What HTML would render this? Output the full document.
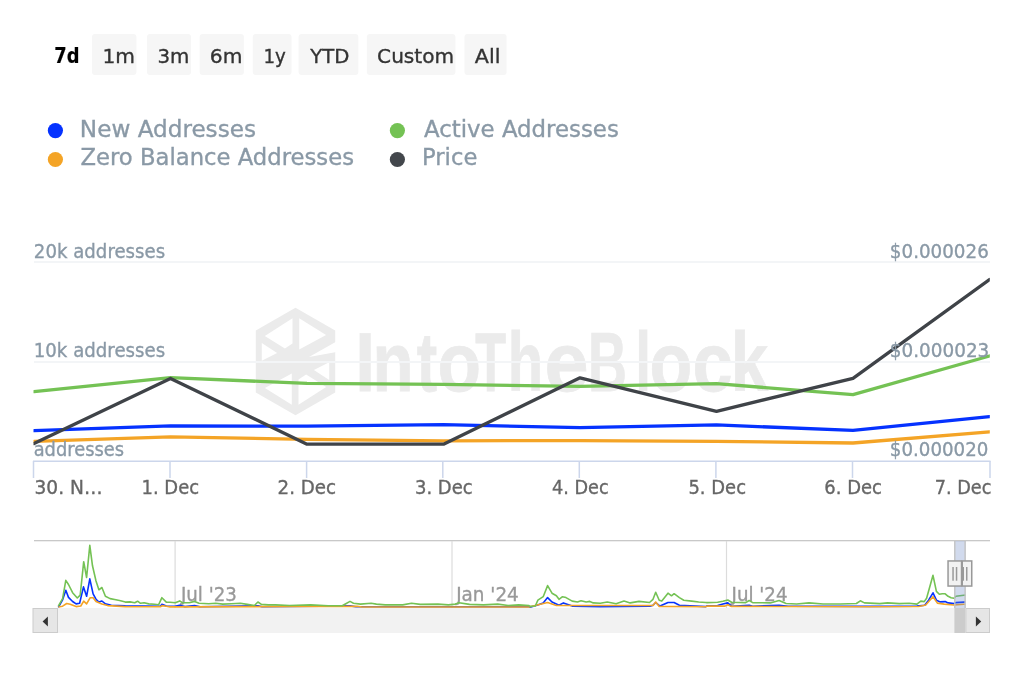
<!DOCTYPE html>
<html><head><meta charset="utf-8"><title>Addresses chart</title><style>html,body{margin:0;padding:0;background:#fff;overflow:hidden}svg{display:block;will-change:transform}</style></head><body>
<svg width="1024" height="683" viewBox="0 0 1024 683" font-family="'DejaVu Sans', sans-serif">
<rect width="1024" height="683" fill="#ffffff"/>
<rect x="92" y="34" width="44.4" height="41" rx="3" fill="#f6f6f6"/>
<rect x="147" y="34" width="44.0" height="41" rx="3" fill="#f6f6f6"/>
<rect x="199.7" y="34" width="44.2" height="41" rx="3" fill="#f6f6f6"/>
<rect x="252.8" y="34" width="38.7" height="41" rx="3" fill="#f6f6f6"/>
<rect x="298.6" y="34" width="59.7" height="41" rx="3" fill="#f6f6f6"/>
<rect x="366.9" y="34" width="88.5" height="41" rx="3" fill="#f6f6f6"/>
<rect x="464.5" y="34" width="42.1" height="41" rx="3" fill="#f6f6f6"/>
<circle cx="55.4" cy="130.6" r="7.6" fill="#0532ff"/>
<circle cx="55.4" cy="159.5" r="7.6" fill="#f4a426"/>
<circle cx="397.4" cy="130.6" r="7.6" fill="#74c254"/>
<circle cx="397.4" cy="159.5" r="7.6" fill="#43474c"/>
<path fill="#ebebeb" d="M295.5,307.7 L335.2,330.6 L335.2,392.4 L295.5,415.3 L255.8,392.4 L255.8,330.6 Z"/>
<path fill="#ffffff" d="M264.8,335.9 L292.5,318.3 L292.5,343.5 L284.9,348.5 Z M299.2,318.3 L326.1,335.1 L299.2,349.4 Z M261.8,342.9 L277.1,352.9 L261.8,360.8 Z M336.5,341.5 L309.0,357.0 L336.5,352.0 Z M326.2,387.1 L298.5,404.7 L298.5,379.5 L306.1,374.5 Z M291.8,404.7 L264.9,387.9 L291.8,373.6 Z M329.2,380.1 L313.9,370.1 L329.2,362.2 Z"/>
<g aria-label="IntoTheBlock"><text x="355.27" y="391.00" font-family="'Liberation Sans', sans-serif" font-size="84" font-weight="bold" fill="#ebebeb" stroke="#ebebeb" stroke-width="0.8" textLength="19.75" lengthAdjust="spacingAndGlyphs">I</text><text x="372.40" y="391.00" font-family="'Liberation Sans', sans-serif" font-size="84" font-weight="bold" fill="#ebebeb" stroke="#ebebeb" stroke-width="0.8" textLength="41.05" lengthAdjust="spacingAndGlyphs">n</text><text x="416.67" y="391.00" font-family="'Liberation Sans', sans-serif" font-size="84" font-weight="bold" fill="#ebebeb" stroke="#ebebeb" stroke-width="0.8" textLength="20.44" lengthAdjust="spacingAndGlyphs">t</text><text x="437.46" y="391.00" font-family="'Liberation Sans', sans-serif" font-size="84" font-weight="bold" fill="#ebebeb" stroke="#ebebeb" stroke-width="0.8" textLength="43.50" lengthAdjust="spacingAndGlyphs">o</text><text x="475.30" y="391.00" font-family="'Liberation Sans', sans-serif" font-size="84" font-weight="bold" fill="#ebebeb" stroke="#ebebeb" stroke-width="0.8" textLength="30.89" lengthAdjust="spacingAndGlyphs">T</text><text x="507.85" y="391.00" font-family="'Liberation Sans', sans-serif" font-size="84" font-weight="bold" fill="#ebebeb" stroke="#ebebeb" stroke-width="0.8" textLength="35.43" lengthAdjust="spacingAndGlyphs">h</text><text x="544.47" y="391.00" font-family="'Liberation Sans', sans-serif" font-size="84" font-weight="bold" fill="#ebebeb" stroke="#ebebeb" stroke-width="0.8" textLength="44.10" lengthAdjust="spacingAndGlyphs">e</text><text x="588.09" y="391.00" font-family="'Liberation Sans', sans-serif" font-size="84" font-weight="bold" fill="#ebebeb" stroke="#ebebeb" stroke-width="0.8" textLength="38.96" lengthAdjust="spacingAndGlyphs">B</text><text x="635.32" y="391.00" font-family="'Liberation Sans', sans-serif" font-size="84" font-weight="bold" fill="#ebebeb" stroke="#ebebeb" stroke-width="0.8" textLength="15.80" lengthAdjust="spacingAndGlyphs">l</text><text x="649.50" y="391.00" font-family="'Liberation Sans', sans-serif" font-size="84" font-weight="bold" fill="#ebebeb" stroke="#ebebeb" stroke-width="0.8" textLength="42.72" lengthAdjust="spacingAndGlyphs">o</text><text x="692.43" y="391.00" font-family="'Liberation Sans', sans-serif" font-size="84" font-weight="bold" fill="#ebebeb" stroke="#ebebeb" stroke-width="0.8" textLength="40.04" lengthAdjust="spacingAndGlyphs">c</text><text x="730.80" y="391.00" font-family="'Liberation Sans', sans-serif" font-size="84" font-weight="bold" fill="#ebebeb" stroke="#ebebeb" stroke-width="0.8" textLength="37.37" lengthAdjust="spacingAndGlyphs">k</text></g>
<rect x="34" y="261" width="956" height="2" fill="#f3f5f7"/>
<rect x="34" y="361" width="956" height="2" fill="#f3f5f7"/>
<rect x="33" y="460.5" width="957.5" height="1.5" fill="#ccd6eb"/>
<rect x="32.75" y="461" width="1.5" height="17" fill="#ccd6eb"/>
<rect x="169.25" y="461" width="1.5" height="17" fill="#ccd6eb"/>
<rect x="305.85" y="461" width="1.5" height="17" fill="#ccd6eb"/>
<rect x="442.05" y="461" width="1.5" height="17" fill="#ccd6eb"/>
<rect x="578.55" y="461" width="1.5" height="17" fill="#ccd6eb"/>
<rect x="715.15" y="461" width="1.5" height="17" fill="#ccd6eb"/>
<rect x="851.75" y="461" width="1.5" height="17" fill="#ccd6eb"/>
<rect x="989.25" y="461" width="1.5" height="17" fill="#ccd6eb"/>
<clipPath id="pc"><rect x="33.5" y="240" width="956.3" height="222"/></clipPath><g clip-path="url(#pc)">
<polyline points="34.0,441.4 170.5,436.8 307.0,439.3 443.5,440.8 580.0,440.6 716.5,441.3 853.0,443.0 989.5,431.8" fill="none" stroke="#f4a426" stroke-width="3.3" stroke-linejoin="round" stroke-linecap="round"/>
<polyline points="34.0,430.7 170.5,425.9 307.0,426.2 443.5,424.7 580.0,427.6 716.5,424.9 853.0,430.4 989.5,416.6" fill="none" stroke="#0532ff" stroke-width="3.3" stroke-linejoin="round" stroke-linecap="round"/>
<polyline points="34.0,391.6 170.5,377.6 307.0,383.4 443.5,384.4 580.0,386.4 716.5,383.7 853.0,394.7 989.5,356.0" fill="none" stroke="#74c254" stroke-width="3.3" stroke-linejoin="round" stroke-linecap="round"/>
<polyline points="34.0,443.5 170.5,378.5 307.0,444.2 443.5,444.2 580.0,377.8 716.5,411.3 853.0,378.3 989.5,279.6" fill="none" stroke="#3f4348" stroke-width="3.3" stroke-linejoin="round" stroke-linecap="round"/>
</g>
<text x="54.25" y="63.10" font-size="21" font-weight="bold" fill="#000000" stroke="#000000" stroke-width="0.2" textLength="25.23" lengthAdjust="spacingAndGlyphs">7d</text>
<text x="102.48" y="63.10" font-size="20" fill="#333333" stroke="#333333" stroke-width="0.35" textLength="32.52" lengthAdjust="spacingAndGlyphs">1m</text>
<text x="157.51" y="63.10" font-size="20" fill="#333333" stroke="#333333" stroke-width="0.35" textLength="31.96" lengthAdjust="spacingAndGlyphs">3m</text>
<text x="209.79" y="63.10" font-size="20" fill="#333333" stroke="#333333" stroke-width="0.35" textLength="32.61" lengthAdjust="spacingAndGlyphs">6m</text>
<text x="263.48" y="63.10" font-size="20" fill="#333333" stroke="#333333" stroke-width="0.35" textLength="22.37" lengthAdjust="spacingAndGlyphs">1y</text>
<text x="310.28" y="63.10" font-size="20" fill="#333333" stroke="#333333" stroke-width="0.35" textLength="39.21" lengthAdjust="spacingAndGlyphs">YTD</text>
<text x="377.10" y="63.10" font-size="20" fill="#333333" stroke="#333333" stroke-width="0.35" textLength="76.99" lengthAdjust="spacingAndGlyphs">Custom</text>
<text x="474.80" y="63.10" font-size="20" fill="#333333" stroke="#333333" stroke-width="0.35" textLength="25.61" lengthAdjust="spacingAndGlyphs">All</text>
<text x="79.89" y="136.50" font-size="23" fill="#8a99a6" stroke="#8a99a6" stroke-width="0.35" textLength="176.10" lengthAdjust="spacingAndGlyphs">New Addresses</text>
<text x="80.51" y="164.90" font-size="23" fill="#8a99a6" stroke="#8a99a6" stroke-width="0.35" textLength="273.46" lengthAdjust="spacingAndGlyphs">Zero Balance Addresses</text>
<text x="424.00" y="136.50" font-size="23" fill="#8a99a6" stroke="#8a99a6" stroke-width="0.35" textLength="194.78" lengthAdjust="spacingAndGlyphs">Active Addresses</text>
<text x="422.03" y="164.90" font-size="23" fill="#8a99a6" stroke="#8a99a6" stroke-width="0.35" textLength="55.31" lengthAdjust="spacingAndGlyphs">Price</text>
<text x="33.87" y="257.70" font-size="19.5" fill="#8a99a6" stroke="#8a99a6" stroke-width="0.35" textLength="131.28" lengthAdjust="spacingAndGlyphs">20k addresses</text>
<text x="33.74" y="357.20" font-size="19.5" fill="#8a99a6" stroke="#8a99a6" stroke-width="0.35" textLength="131.41" lengthAdjust="spacingAndGlyphs">10k addresses</text>
<text x="33.69" y="455.80" font-size="19.5" fill="#8a99a6" stroke="#8a99a6" stroke-width="0.35" textLength="90.36" lengthAdjust="spacingAndGlyphs">addresses</text>
<text x="889.86" y="257.50" font-size="19.5" fill="#8a99a6" stroke="#8a99a6" stroke-width="0.35" textLength="98.92" lengthAdjust="spacingAndGlyphs">$0.000026</text>
<text x="889.86" y="357.00" font-size="19.5" fill="#8a99a6" stroke="#8a99a6" stroke-width="0.35" textLength="99.47" lengthAdjust="spacingAndGlyphs">$0.000023</text>
<text x="889.87" y="455.50" font-size="19.5" fill="#8a99a6" stroke="#8a99a6" stroke-width="0.35" textLength="98.51" lengthAdjust="spacingAndGlyphs">$0.000020</text>
<text x="34.52" y="493.60" font-size="19" fill="#666666" stroke="#666666" stroke-width="0.35" textLength="68.14" lengthAdjust="spacingAndGlyphs">30. N…</text>
<text x="141.51" y="493.60" font-size="19" fill="#666666" stroke="#666666" stroke-width="0.35" textLength="57.61" lengthAdjust="spacingAndGlyphs">1. Dec</text>
<text x="277.54" y="493.60" font-size="19" fill="#666666" stroke="#666666" stroke-width="0.35" textLength="58.49" lengthAdjust="spacingAndGlyphs">2. Dec</text>
<text x="414.95" y="493.60" font-size="19" fill="#666666" stroke="#666666" stroke-width="0.35" textLength="57.77" lengthAdjust="spacingAndGlyphs">3. Dec</text>
<text x="552.00" y="493.60" font-size="19" fill="#666666" stroke="#666666" stroke-width="0.35" textLength="56.72" lengthAdjust="spacingAndGlyphs">4. Dec</text>
<text x="688.46" y="493.60" font-size="19" fill="#666666" stroke="#666666" stroke-width="0.35" textLength="57.57" lengthAdjust="spacingAndGlyphs">5. Dec</text>
<text x="824.35" y="493.60" font-size="19" fill="#666666" stroke="#666666" stroke-width="0.35" textLength="57.67" lengthAdjust="spacingAndGlyphs">6. Dec</text>
<text x="934.67" y="493.60" font-size="19" fill="#666666" stroke="#666666" stroke-width="0.35" textLength="56.75" lengthAdjust="spacingAndGlyphs">7. Dec</text>
<text x="180.96" y="601.00" font-size="19" fill="#999999" stroke="#999999" stroke-width="0.35" textLength="55.98" lengthAdjust="spacingAndGlyphs">Jul '23</text>
<text x="456.17" y="600.80" font-size="19" fill="#999999" stroke="#999999" stroke-width="0.35" textLength="62.62" lengthAdjust="spacingAndGlyphs">Jan '24</text>
<text x="731.56" y="600.80" font-size="19" fill="#999999" stroke="#999999" stroke-width="0.35" textLength="56.02" lengthAdjust="spacingAndGlyphs">Jul '24</text>
<rect x="34" y="540" width="956" height="1.3" fill="#c8c8c8"/>
<rect x="174.5" y="541" width="1.2" height="67" fill="#dcdcdc"/>
<rect x="451.4" y="541" width="1.2" height="67" fill="#dcdcdc"/>
<rect x="725.9" y="541" width="1.2" height="67" fill="#dcdcdc"/>
<polyline points="58.3,607.4 62.6,599.8 65.8,590.2 68.5,597.4 72.6,601.5 76.1,603.9 79.6,603.3 83.5,586.9 86.6,596.3 89.8,578.9 93.1,593.9 96.0,599.2 98.9,602.1 101.9,601.0 105.4,603.9 111.3,605.3 125.3,605.9 160.5,606.2 161.9,604.2 166.3,606.0 170.0,606.2 175.0,606.2 179.5,605.2 185.0,606.6 194.6,605.6 200.0,606.8 257.9,605.8 262.0,606.8 350.0,605.9 356.0,606.8 529.0,606.8 530.0,607.3 537.0,605.2 543.2,602.9 547.6,597.6 552.0,602.0 559.0,605.2 563.4,602.9 572.2,606.1 600.3,606.6 650.0,606.2 653.0,605.2 655.7,602.5 660.0,606.1 668.0,602.5 674.1,602.5 679.4,605.2 705.8,606.6 707.0,605.8 717.6,605.5 722.9,604.0 727.8,602.9 731.6,606.3 749.2,605.3 752.7,606.2 779.1,605.3 788.0,606.3 870.0,606.4 916.9,606.1 924.7,605.2 928.6,600.2 933.0,592.8 936.4,600.2 940.3,601.9 945.2,601.6 948.1,602.9 954.0,603.6 955.9,602.6 963.8,602.1 965.4,602.0" fill="none" stroke="#0532ff" stroke-width="1.6" stroke-linejoin="round"/>
<polyline points="58.3,607.0 62.6,606.2 66.7,603.5 70.2,604.2 76.1,606.6 80.8,606.0 83.7,601.2 86.6,603.9 90.2,597.7 93.1,597.7 96.0,601.5 101.9,603.9 107.7,605.6 125.3,606.6 160.5,606.8 161.9,605.6 166.3,606.3 170.0,606.9 357.0,606.2 362.0,607.0 529.0,607.0 530.0,606.7 547.6,602.5 556.4,605.5 653.0,605.5 655.7,602.0 659.2,606.4 705.8,606.7 707.0,606.1 725.0,606.1 727.8,604.7 731.0,606.4 870.0,606.8 918.8,606.5 925.7,605.0 933.0,596.7 937.4,603.1 944.2,604.1 954.0,605.0 963.8,604.3 965.4,604.2" fill="none" stroke="#f4a426" stroke-width="1.6" stroke-linejoin="round"/>
<polyline points="58.3,606.2 62.6,598.6 65.8,580.4 68.5,584.5 72.6,592.7 77.3,598.0 80.2,595.1 83.7,561.7 86.6,577.5 89.8,545.3 92.5,565.8 96.0,581.0 98.9,589.8 101.9,587.5 105.4,596.3 110.1,598.6 115.9,599.8 120.6,600.7 125.3,602.1 130.0,601.9 134.7,602.7 137.6,601.2 140.5,603.3 144.1,602.7 148.8,603.9 154.6,604.2 158.7,604.7 161.9,597.7 166.3,602.1 170.0,602.3 175.3,602.7 179.7,600.9 182.3,602.7 189.3,602.7 194.6,601.4 199.0,603.2 208.7,603.7 215.7,603.2 222.7,604.1 231.5,603.7 240.3,603.2 247.3,604.4 254.4,605.5 257.9,602.0 261.4,604.4 268.4,604.9 275.5,604.9 289.5,605.5 310.6,604.9 328.2,605.8 342.3,605.8 345.8,603.7 350.0,601.4 353.5,603.2 360.5,604.1 371.1,603.2 376.4,604.1 385.2,604.9 402.7,604.9 411.5,603.2 420.3,604.4 437.9,604.1 448.4,604.9 455.5,604.1 459.0,602.7 469.5,604.4 483.6,604.9 497.7,604.1 508.2,605.5 518.7,604.9 529.0,605.5 530.0,606.4 535.3,606.0 537.9,600.2 543.2,596.7 547.6,585.6 552.0,593.2 556.4,595.8 559.0,599.3 562.5,596.7 566.0,597.6 572.2,601.1 577.5,602.0 581.0,600.7 586.2,602.0 589.8,601.4 593.3,602.9 600.3,603.2 607.3,602.0 616.1,603.7 624.0,601.1 630.2,602.9 639.0,601.4 649.5,602.5 653.0,599.3 655.7,592.3 659.2,600.2 661.8,601.1 668.0,593.2 671.5,595.8 674.1,593.7 679.4,597.6 683.8,600.2 691.7,601.1 698.7,602.0 705.8,602.5 707.0,602.6 717.6,602.2 722.9,601.2 727.8,600.0 731.6,602.2 745.7,602.6 749.2,600.5 752.7,602.6 770.3,602.9 779.1,600.5 786.1,603.5 796.7,604.0 809.0,602.9 823.0,604.0 840.6,604.0 856.4,603.5 860.3,600.8 864.4,602.9 870.0,603.1 879.8,603.6 887.6,602.9 899.3,603.6 909.1,603.3 916.9,604.1 920.8,601.1 924.2,601.6 926.6,598.2 933.0,575.3 936.4,591.4 939.3,594.3 942.3,593.8 945.2,593.8 948.1,596.3 951.1,597.7 954.0,598.2 955.9,596.3 963.8,595.3 965.4,595.1" fill="none" stroke="#74c254" stroke-width="1.6" stroke-linejoin="round"/>
<rect x="954.1" y="541" width="11.7" height="67" fill="rgba(102,133,194,0.3)"/>
<rect x="954.1" y="541" width="1.4" height="67" fill="#c4c4c4"/><rect x="964.4" y="541" width="1.4" height="67" fill="#c4c4c4"/>
<rect x="58" y="608" width="907.4" height="25" fill="#f2f2f2"/>
<rect x="954.4" y="608" width="11" height="25" fill="#cccccc"/>
<rect x="33" y="608.5" width="24.5" height="24" fill="#e6e6e6" stroke="#cccccc" stroke-width="1"/>
<rect x="965.9" y="608.5" width="23.6" height="24" fill="#e6e6e6" stroke="#cccccc" stroke-width="1"/>
<path d="M42.6,621.4 L47.9,616.4 L47.9,626.4 Z" fill="#333333"/>
<path d="M981.2,621.4 L975.9,616.4 L975.9,626.4 Z" fill="#333333"/>
<rect x="948.05" y="560.95" width="13.5" height="25.1" fill="#f2f2f2" stroke="#999999" stroke-width="1.5"/>
<rect x="952.3" y="567" width="1.5" height="13.7" fill="#999999"/><rect x="955.8" y="567" width="1.5" height="13.7" fill="#999999"/>
<rect x="962.25" y="560.95" width="9.5" height="25.1" fill="#f2f2f2" stroke="#999999" stroke-width="1.5"/>
<rect x="962.5" y="567" width="1.5" height="13.7" fill="#999999"/><rect x="966" y="567" width="1.5" height="13.7" fill="#999999"/>
</svg>
</body></html>
